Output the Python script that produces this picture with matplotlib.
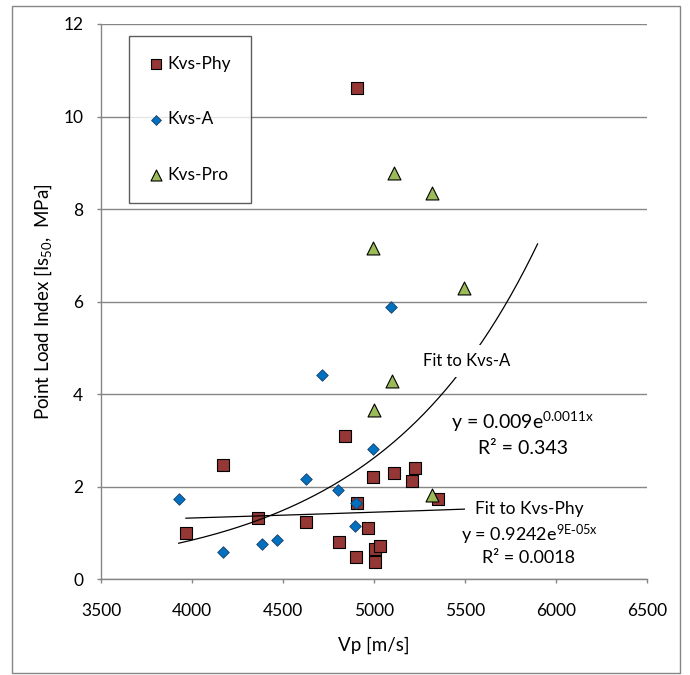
import matplotlib
matplotlib.use("Agg")
import matplotlib.pyplot as plt
import numpy as np

plt.rcParams['font.family'] = ['Lato', 'DejaVu Sans']
plt.rcParams['mathtext.default'] = 'regular'

# Kvs-Phy
phy_vp = [3967, 4169, 4361, 4629, 4806, 4842, 4902, 4907, 4970, 4997,
          5008, 5008, 5036, 5109, 5210, 5228, 5355, 4907]
phy_is = [0.99, 2.46, 1.32, 1.23, 0.80, 3.09, 0.48, 1.65, 1.10, 2.20,
          0.65, 0.37, 0.73, 2.29, 2.13, 2.40, 1.73, 10.62]

# Kvs-A
a_vp = [3927, 4170, 4385, 4468, 4627, 4715, 4805, 4902, 4898, 4996, 5096]
a_is = [1.73, 0.60, 0.76, 0.84, 2.16, 4.42, 1.93, 1.64, 1.16, 2.81, 5.88]

# Kvs-Pro
pro_vp = [5109, 5318, 4997, 5494, 5100, 5000, 5318]
pro_is = [8.77, 8.35, 7.16, 6.30, 4.29, 3.66, 1.83]

# exponential trendlines y = a*exp(b*x) as shown on the chart
fit_a = (0.00922, 0.00113)
fit_phy = (0.9242, 9e-05)
fit_end = 5900

GRAY = '#868686'

fig = plt.figure(figsize=(6.9, 6.75), dpi=100)
ax = fig.add_axes([101 / 690, 1 - 579.3 / 675, 545.7 / 690, 555.3 / 675])

ax.scatter(phy_vp, phy_is, marker='s', s=9.1 ** 2, c='#953735',
           edgecolors='black', linewidths=0.8, label='Kvs-Phy', zorder=3)
ax.scatter(a_vp, a_is, marker='D', s=5.9 ** 2, c='#0070C0',
           edgecolors='#1f3f66', linewidths=0.6, label='Kvs-A', zorder=4)
ax.scatter(pro_vp, pro_is, marker='^', s=9.3 ** 2, c='#9BBB59',
           edgecolors='black', linewidths=0.8, label='Kvs-Pro', zorder=5)

xa = np.linspace(min(a_vp), fit_end, 200)
ax.plot(xa, fit_a[0] * np.exp(fit_a[1] * xa), color='black', lw=0.9, zorder=6)
xp = np.linspace(min(phy_vp), fit_end, 200)
ax.plot(xp, fit_phy[0] * np.exp(fit_phy[1] * xp), color='black', lw=0.9, zorder=6)

box = dict(facecolor='white', edgecolor='none', pad=6)
ax.text(5510, 4.715, 'Fit to Kvs-A', fontsize=12, ha='center', va='center',
        bbox=box, zorder=7)
ax.text(5820, 3.26, r'y = 0.009e$^{0.0011x}$', fontsize=14, ha='center',
        va='baseline', zorder=7)
ax.text(5820, 2.71, 'R² = 0.343', fontsize=14, ha='center', va='baseline', zorder=7)
ax.text(5852, 1.404, 'Fit to Kvs-Phy', fontsize=12.5, ha='center', va='baseline',
        bbox=dict(facecolor='white', edgecolor='none', pad=7), zorder=7)
ax.text(5855, 0.834, r'y = 0.9242e$^{9E\text{-}05x}$', fontsize=13, ha='center',
        va='baseline', zorder=7)
ax.text(5850, 0.346, 'R² = 0.0018', fontsize=13, ha='center', va='baseline', zorder=7)

ax.set_xlim(3500, 6500)
ax.set_ylim(0, 12)
ax.set_xticks(np.arange(3500, 6501, 500))
ax.set_yticks(np.arange(0, 13, 2))
ax.yaxis.grid(True, color=GRAY, lw=1)
ax.set_axisbelow(True)
for side in ['top', 'right']:
    ax.spines[side].set_visible(False)
for side in ['left', 'bottom']:
    ax.spines[side].set_color(GRAY)
    ax.spines[side].set_linewidth(1)
ax.tick_params(axis='both', direction='out', length=3.2, width=1, color=GRAY,
               labelsize=12.5, labelcolor='black')
ax.tick_params(axis='x', pad=14)
ax.tick_params(axis='y', pad=9.5)

ax.set_xlabel('Vp [m/s]', fontsize=13.5)
ax.set_ylabel('Point Load Index [Is$_{50}$,  MPa]', fontsize=13.5)
ax.xaxis.set_label_coords(0.5, (579.3 - 645) / 555.3)
ax.xaxis.label.set_va('center')
ax.yaxis.set_label_coords((43.5 - 101) / 545.7, 0.5)
ax.yaxis.label.set_va('center')

leg = ax.legend(loc='upper left', bbox_to_anchor=((128.7 - 101) / 545.7, (579.3 - 36) / 555.3),
                fontsize=12.5, scatterpoints=1, markerscale=0.85, frameon=True,
                fancybox=False, borderpad=1.15, handlelength=0.9, handletextpad=0.2,
                labelspacing=2.27, borderaxespad=0)
leg.get_frame().set_edgecolor('#333333')
leg.get_frame().set_linewidth(1)

fig.patches.append(plt.Rectangle((12 / 690, 2 / 675), 668 / 690, 667 / 675,
                                 transform=fig.transFigure, fill=False,
                                 edgecolor=GRAY, lw=1))

fig.savefig('out.png', dpi=100)
